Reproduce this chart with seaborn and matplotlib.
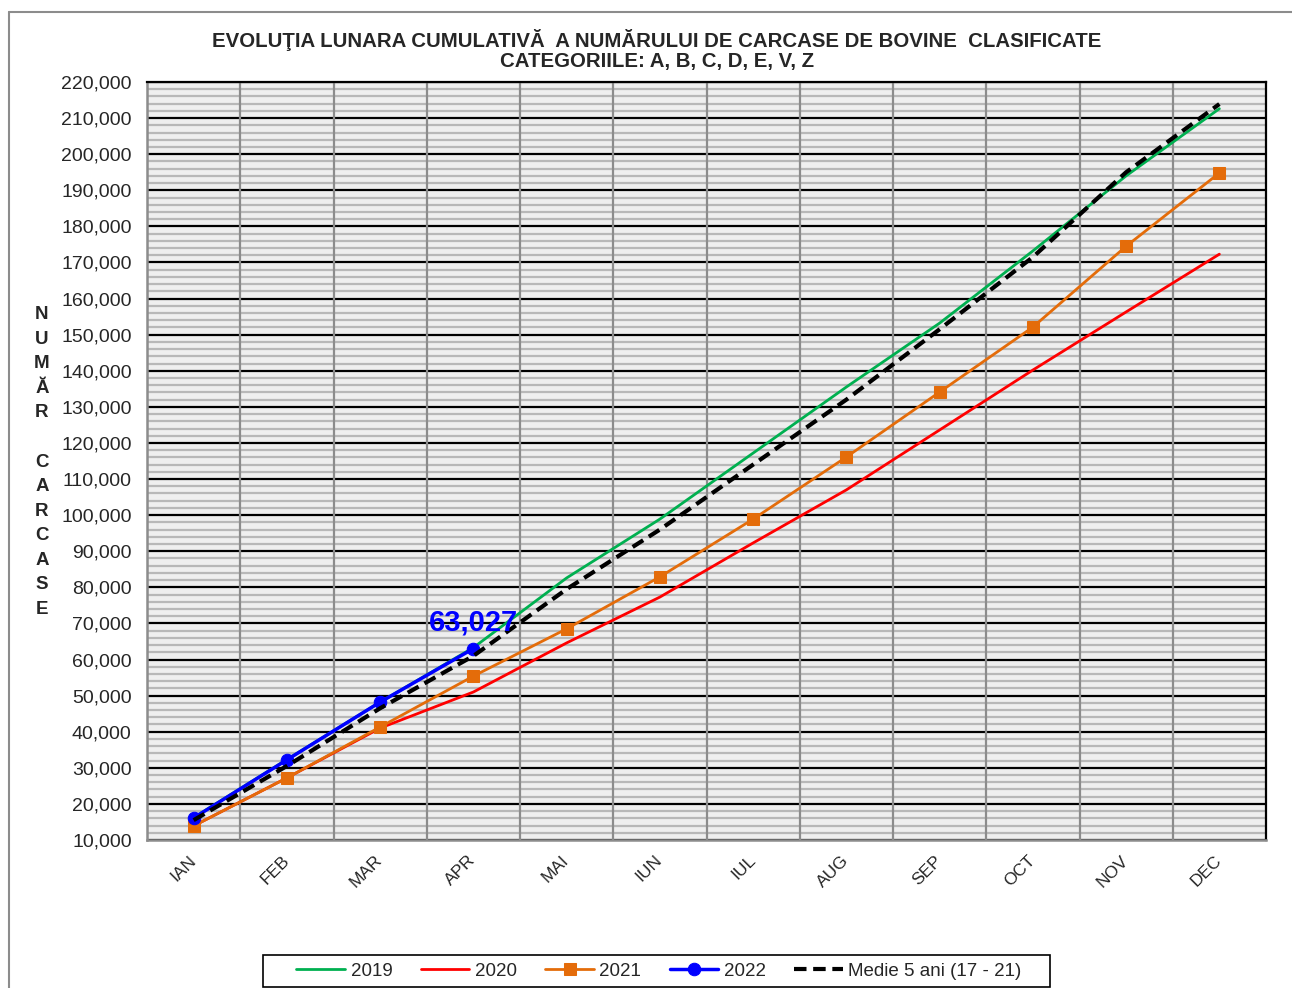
import matplotlib
matplotlib.use('Agg')
import matplotlib.pyplot as plt
import seaborn as sns
import pandas as pd
from matplotlib.ticker import MultipleLocator, FuncFormatter
from matplotlib.lines import Line2D
from matplotlib.patches import Rectangle

# Date
luni = ['IAN', 'FEB', 'MAR', 'APR', 'MAI', 'IUN', 'IUL', 'AUG', 'SEP', 'OCT', 'NOV', 'DEC']
an_2019 = [16200, 32300, 48200, 63300, 82600, 98900, 117200, 135500, 153200, 173200, 194000, 212600]
an_2020 = [13900, 27200, 41000, 51000, 64600, 77300, 92300, 107000, 123600, 140200, 156300, 172300]
an_2021 = [13900, 27200, 41300, 55400, 68500, 82900, 98900, 116100, 134100, 152100, 174500, 194800]
an_2022 = [16100, 32200, 48200, 63027]
medie = [15500, 30500, 46500, 61000, 79500, 96000, 114000, 132000, 151500, 171500, 195000, 213900]

x = list(range(len(luni)))

sns.set_style('white')
plt.rcParams['font.family'] = ['Liberation Sans', 'DejaVu Sans']

fig = plt.figure(figsize=(12.92, 9.88), dpi=100)
ax = fig.add_axes([147/1292, 1 - 840/988, (1266-147)/1292, (840-82)/988])
ax.set_facecolor('#efefef')

sns.lineplot(x=x, y=an_2019, ax=ax, color='#00b050', lw=2, label='2019', sort=False)
sns.lineplot(x=x, y=an_2020, ax=ax, color='#ff0000', lw=2, label='2020', sort=False)
sns.lineplot(x=x, y=an_2021, ax=ax, color='#e46c0a', lw=2, marker='s', markersize=9,
             markeredgecolor='#e46c0a', label='2021', sort=False)
sns.lineplot(x=x[:len(an_2022)], y=an_2022, ax=ax, color='#0000ff', lw=2.5, marker='o',
             markersize=9, markeredgecolor='#0000ff', label='2022', sort=False)
sns.lineplot(x=x, y=medie, ax=ax, color='black', lw=3, linestyle=(0, (3, 1.6)),
             label='Medie 5 ani (17 - 21)', sort=False)

# eticheta ultimei valori 2022
ax.text(x[3], an_2022[3] + 7200, f'{an_2022[3]:,}', color='#0000ff', fontsize=21,
        fontweight='bold', ha='center', va='center')

ax.set_xlim(-0.5, 11.5)
ax.set_ylim(10000, 220000)

# grila
ax.yaxis.set_major_locator(MultipleLocator(10000))
ax.yaxis.set_minor_locator(MultipleLocator(2000))
ax.yaxis.set_major_formatter(FuncFormatter(lambda v, p: f'{int(v):,}'))
ax.grid(which='minor', axis='y', color='#b8b8b8', lw=1.6)
ax.grid(which='major', axis='y', color='black', lw=1.6)
for b in [i + 0.5 for i in x[:-1]]:
    ax.axvline(b, color='#8c8c8c', lw=1.6, zorder=1)
ax.set_axisbelow(True)

ax.set_xticks(x)
ax.set_xticklabels(luni, rotation=45, fontsize=12.5, ha='right', va='center',
                   rotation_mode='anchor')
ax.set_xticks([i - 0.5 for i in x] + [11.5], minor=True)
ax.tick_params(axis='x', which='major', length=0, pad=13)
ax.tick_params(axis='x', which='minor', length=6, color='#8c8c8c', width=1.5, direction='out')
ax.tick_params(axis='y', which='major', length=6, color='#8c8c8c', width=1.2, labelsize=14, pad=5)
ax.tick_params(axis='y', which='minor', length=4, color='#8c8c8c', width=1.0)

for s in ['top', 'right']:
    ax.spines[s].set_color('black')
    ax.spines[s].set_linewidth(1.6)
for s in ['left', 'bottom']:
    ax.spines[s].set_color('#8c8c8c')
    ax.spines[s].set_linewidth(1.8)

ax.set_xlabel('')
ax.set_ylabel('')

# titlu
fig.text(657/1292, 1 - 40/988, 'EVOLUŢIA LUNARA CUMULATIVĂ  A NUMĂRULUI DE CARCASE DE BOVINE  CLASIFICATE',
         ha='center', va='center', fontsize=14.7, fontweight='bold')
fig.text(657/1292, 1 - 62/988, 'CATEGORIILE: A, B, C, D, E, V, Z',
         ha='center', va='center', fontsize=14.7, fontweight='bold')

# eticheta axei y, litera cu litera
fig.text(42/1292, 1 - 462/988, 'N\nU\nM\nĂ\nR\n\nC\nA\nR\nC\nA\nS\nE',
         ha='center', va='center', fontsize=13.5, fontweight='bold', linespacing=1.58)

# legenda
leg = ax.get_legend()
handles, labels = ax.get_legend_handles_labels()
leg.remove()
fig.legend(handles, labels, loc='center', bbox_to_anchor=(659/1292, 1 - 971/988),
           ncol=5, fontsize=13.5, frameon=False, handlelength=2.6,
           handletextpad=0.3, columnspacing=1.5)
fig.add_artist(Rectangle((263/1292, 1 - 987/988), (1050-263)/1292, 32/988,
                         transform=fig.transFigure, fill=False, edgecolor='black', lw=1.2))

# chenarul exterior
fig.add_artist(Line2D([9/1292, 9/1292], [0, 1 - 12/988], color='#8c8c8c', lw=1.5))
fig.add_artist(Line2D([9/1292, 1], [1 - 12/988, 1 - 12/988], color='#8c8c8c', lw=1.5))

fig.savefig('out.png', dpi=100)
